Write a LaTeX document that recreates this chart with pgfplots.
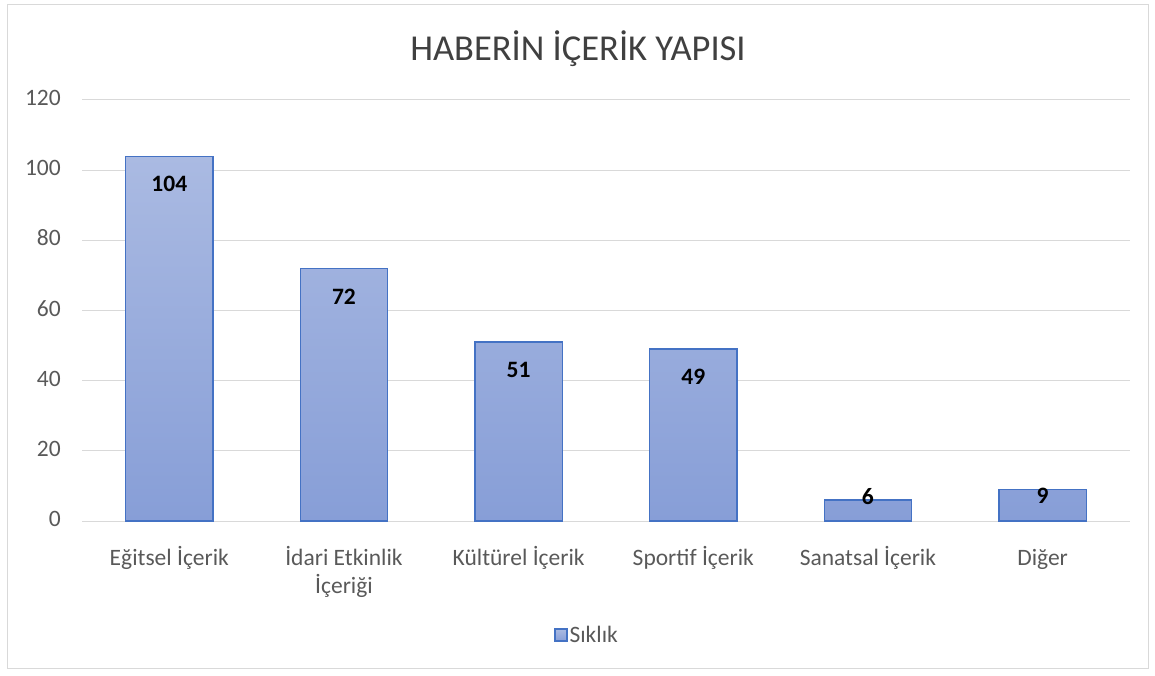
\documentclass[border=0pt]{standalone}
\usepackage{fontspec}
\setmainfont{Carlito}
\usepackage{pgfplots}
\pgfplotsset{compat=1.18}
\definecolor{tickgray}{RGB}{89,89,89}
\definecolor{titlegray}{RGB}{64,64,64}
\definecolor{gridgray}{RGB}{217,217,217}
\definecolor{barline}{RGB}{68,114,196}
\definecolor{bartop}{RGB}{170,186,226}
\definecolor{barbot}{RGB}{135,158,215}
\pgfplotstableread{
x y off
0 104 -28
1 72 -28
2 51 -28
3 49 -28
4 6 3
5 9 -6
}\datatable
\begin{document}
\begin{tikzpicture}
\useasboundingbox (0pt,0pt) rectangle (1155pt,675pt);
\draw[gridgray, line width=1pt] (7pt,7pt) rectangle (1148pt,670pt);
\node[anchor=base, font=\fontsize{36.5}{40}\selectfont, text=titlegray] at (578pt,614pt) {HABERİN İÇERİK YAPISI};
\begin{axis}[
  at={(82pt,154pt)}, anchor=south west,
  scale only axis, width=1048pt, height=421pt,
  xmin=-0.5, xmax=5.5, ymin=0, ymax=120,
  ytick={0,20,...,120},
  xtick={0,...,5},
  xticklabels={Eğitsel İçerik,İdari Etkinlik\\İçeriği,Kültürel İçerik,Sportif İçerik,Sanatsal İçerik,Diğer},
  /pgf/number format/assume math mode=true,
  axis line style={draw=none},
  major tick style={draw=none},
  ymajorgrids, grid style={gridgray, line width=1pt},
  typeset ticklabels with strut,
  yticklabel style={anchor=east, inner sep=0pt, xshift=-21pt, text=tickgray, font=\fontsize{23.5}{28}\selectfont},
  xticklabel style={anchor=north, inner sep=0pt, yshift=-20pt, text=tickgray, font=\fontsize{23.5}{28.5}\selectfont, align=center},
  ybar, bar width=0.5,
  legend style={draw=none, fill=none, at={(0.482,-0.271)}, anchor=center, font=\fontsize{23.5}{28}\selectfont, text=tickgray},
  legend image code/.code={\draw[#1] (-4pt,-6pt) rectangle (8pt,6pt);},
]
\addplot[bar shift=0pt, draw=barline, line width=1.2pt, top color=bartop, bottom color=barbot,
  visualization depends on={\thisrow{off} \as \myoff},
  nodes near coords,
  nodes near coords style={anchor=center, yshift=\myoff pt, font=\bfseries\fontsize{23.5}{28}\selectfont, text=black},
] table[x=x,y=y] {\datatable};
\legend{Sıklık}
\end{axis}
\end{tikzpicture}
\end{document}
